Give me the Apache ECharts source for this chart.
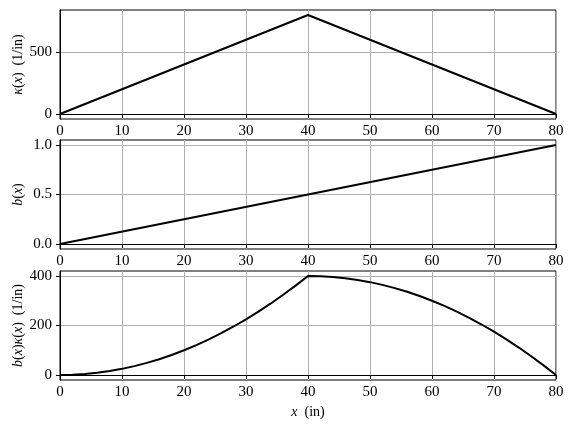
<!DOCTYPE html>
<html><head><meta charset="utf-8">
<script src="https://cdn.jsdelivr.net/npm/echarts@6/dist/echarts.min.js"></script>
<style>html,body{margin:0;padding:0;background:#fff}#c{width:572px;height:431px}</style>
</head><body><div id="c"></div>
<script>
const xTicks = [0, 10, 20, 30, 40, 50, 60, 70, 80];
const kappaX = [0, 40, 80];
const kappaY = [0, 800, 0];
const bX = [0, 80];
const bY = [0, 1];
const prodX = [0, 2, 4, 6, 8, 10, 12, 14, 16, 18, 20, 22, 24, 26, 28, 30, 32, 34, 36, 38, 40,
               42, 44, 46, 48, 50, 52, 54, 56, 58, 60, 62, 64, 66, 68, 70, 72, 74, 76, 78, 80];
const prodY = [0, 1, 4, 9, 16, 25, 36, 49, 64, 81, 100, 121, 144, 169, 196, 225, 256, 289, 324, 361, 400,
               399, 396, 391, 384, 375, 364, 351, 336, 319, 300, 279, 256, 231, 204, 175, 144, 111, 76, 39, 0];
const kappaTicks = [0, 500];
const bTicks = [0, 0.5, 1.0];
const prodTicks = [0, 200, 400];

const FONT = 'Liberation Serif';
const grids = [
  {left: 60, top: 10, width: 496, height: 109},
  {left: 60, top: 140, width: 496, height: 109},
  {left: 60, top: 271, width: 496, height: 109}
];
function xAxis(i, name) {
  return {
    type: 'value', gridIndex: i, min: 0, max: 80, interval: 10,
    name: name || '', nameLocation: 'middle', nameGap: 25, nameMoveOverlap: false,
    nameTextStyle: {fontFamily: FONT, fontSize: 14, color: '#000', rich: {i: {fontFamily: FONT, fontStyle: 'italic', fontSize: 14, color: '#000'}}},
    axisLine: {show: true, lineStyle: {color: '#000', width: 1}},
    axisTick: {show: true, inside: false, length: 4, lineStyle: {color: '#000'}},
    axisLabel: {fontFamily: FONT, fontSize: 15, color: '#000', margin: 5},
    splitLine: {show: true, lineStyle: {color: '#b0b0b0', width: 1}}
  };
}
function yAxis(i, min, max, ticks, name, fmt, gap) {
  return {
    type: 'value', gridIndex: i, min: min, max: max,
    name: name, nameLocation: 'middle', nameGap: gap, nameRotate: 90, nameMoveOverlap: false,
    nameTextStyle: {fontFamily: FONT, fontSize: 14, color: '#000', rich: {i: {fontFamily: FONT, fontStyle: 'italic', fontSize: 14, color: '#000'}}},
    axisLine: {show: true, lineStyle: {color: '#000', width: 1}},
    axisTick: {show: true, inside: false, length: 4, lineStyle: {color: '#000'}, customValues: ticks},
    axisLabel: {fontFamily: FONT, fontSize: 15, color: '#000', margin: 8, customValues: ticks, formatter: fmt},
    splitLine: {show: true, lineStyle: {color: '#b0b0b0', width: 1}}
  };
}
const chart = echarts.init(document.getElementById('c'), null, {renderer: 'canvas'});
function pairs(xs, ys) { return xs.map((x, k) => [x, ys[k]]); }
const lineStyle = {color: '#000', width: 2};
chart.setOption({
  animation: false,
  grid: grids.map(g => Object.assign({show: true, borderColor: '#000', borderWidth: 1, backgroundColor: 'transparent', containLabel: false, outerBoundsMode: 'none'}, g)),
  xAxis: [xAxis(0), xAxis(1), xAxis(2, '{i|x}  (in)')],
  yAxis: [
    yAxis(0, -40, 840, kappaTicks, '{i|κ}({i|x})  (1/in)', v => String(v), 35),
    yAxis(1, -0.05, 1.05, bTicks, '{i|b}({i|x})', v => v.toFixed(1), 35),
    yAxis(2, -20, 420, prodTicks, '{i|b}({i|x}){i|κ}({i|x})  (1/in)', v => String(v), 35)
  ],
  series: [
    {type: 'line', xAxisIndex: 0, yAxisIndex: 0, data: pairs(kappaX, kappaY), showSymbol: false, lineStyle: lineStyle, itemStyle: {color: '#000'}},
    {type: 'line', xAxisIndex: 1, yAxisIndex: 1, data: pairs(bX, bY), showSymbol: false, lineStyle: lineStyle, itemStyle: {color: '#000'}},
    {type: 'line', xAxisIndex: 2, yAxisIndex: 2, data: pairs(prodX, prodY), showSymbol: false, lineStyle: lineStyle, itemStyle: {color: '#000'}}
  ]
});
</script>
</body></html>
